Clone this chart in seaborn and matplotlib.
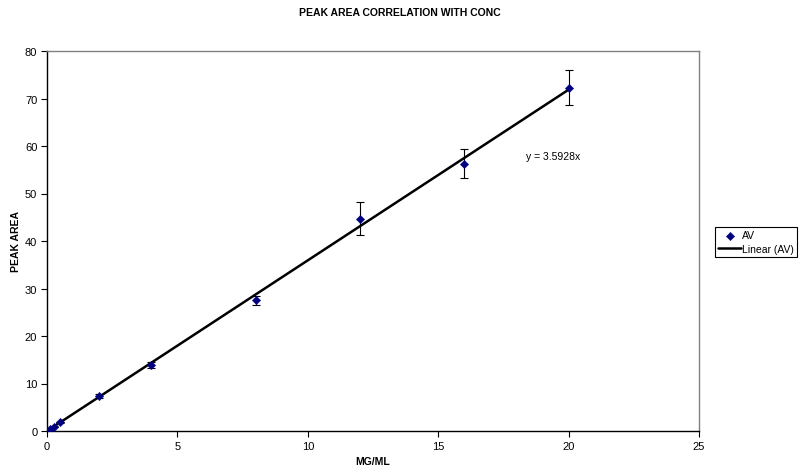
import matplotlib
matplotlib.use("Agg")
import matplotlib.pyplot as plt
import seaborn as sns
import numpy as np
import pandas as pd

# Data
conc = [0, 0.125, 0.25, 0.5, 2, 4, 8, 12, 16, 20]
peak_area = [0.0, 0.45, 0.9, 1.8, 7.4, 13.9, 27.5, 44.7, 56.3, 72.3]
err = [0.05, 0.05, 0.1, 0.15, 0.4, 0.7, 1.0, 3.5, 3.0, 3.7]
slope = 3.5928
trend_x = [0, 20]

sns.set_theme(style="white")
plt.rcParams['font.family'] = ['Liberation Sans', 'DejaVu Sans']
plt.rcParams['text.color'] = 'black'
plt.rcParams['axes.labelcolor'] = 'black'

df = pd.DataFrame({"MG/ML": conc, "PEAK AREA": peak_area})
trend = pd.DataFrame({"x": trend_x, "y": [slope * v for v in trend_x]})

fig = plt.figure(figsize=(8.03, 4.77), dpi=100)
ax = fig.add_axes([47/803, 1-432/477, (699-47)/803, (432-52)/477])

ax.errorbar(conc, peak_area, yerr=err, fmt='none', ecolor='black',
            elinewidth=0.8, capsize=3, capthick=0.8, zorder=2)
sns.lineplot(data=trend, x="x", y="y", color='black', linewidth=1.8,
             ax=ax, label='Linear (AV)', zorder=3)
sns.scatterplot(data=df, x="MG/ML", y="PEAK AREA", marker='D', color='#000080',
                edgecolor='#000080', s=18, ax=ax, label='AV', zorder=4)

ax.set_xlim(0, 25)
ax.set_ylim(0, 80)
ax.set_xticks([0, 5, 10, 15, 20, 25])
ax.set_yticks(range(0, 81, 10))
ax.tick_params(axis='both', which='both', direction='out', length=4, width=0.8,
               labelsize=8, colors='black', bottom=True, left=True, pad=3)
for s in ['left', 'bottom']:
    ax.spines[s].set_color('black')
    ax.spines[s].set_linewidth(1.0)
for s in ['top', 'right']:
    ax.spines[s].set_color('#808080')
    ax.spines[s].set_linewidth(1.0)

ax.set_xlabel("MG/ML", fontsize=7.5, fontweight='bold', labelpad=4)
ax.set_ylabel("PEAK AREA", fontsize=7.5, fontweight='bold', labelpad=3)
fig.text(400/803, 1-13/477, "PEAK AREA CORRELATION WITH CONC", ha='center', va='center',
         fontsize=7.5, fontweight='bold')
ax.text(18.35, 57.8, "y = 3.5928x", fontsize=7.5, ha='left', va='center')

handles, labels = ax.get_legend_handles_labels()
order = [labels.index('AV'), labels.index('Linear (AV)')]
leg = ax.legend([handles[i] for i in order], [labels[i] for i in order],
                loc='center left', bbox_to_anchor=(715/803, 1-243/477),
                bbox_transform=fig.transFigure, fontsize=7.5, frameon=True,
                fancybox=False, edgecolor='black', framealpha=1,
                handlelength=2.2, borderpad=0.3, labelspacing=0.3,
                handletextpad=0.1, borderaxespad=0)
leg.get_frame().set_linewidth(0.8)

fig.savefig("out.png", dpi=100)
